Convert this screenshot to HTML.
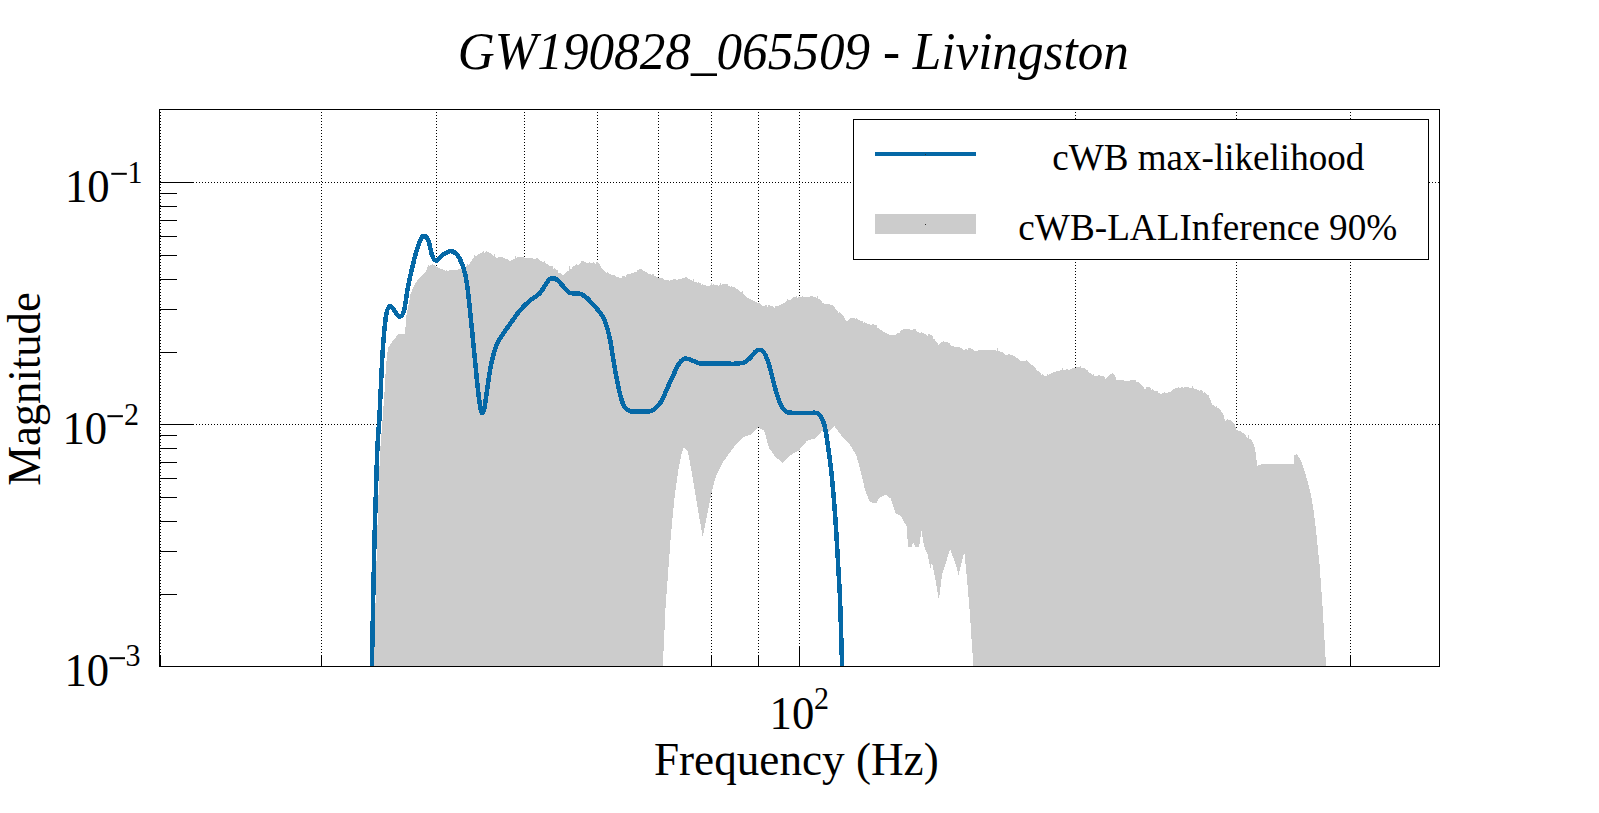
<!DOCTYPE html>
<html><head><meta charset="utf-8"><title>GW190828_065509 - Livingston</title>
<style>
html,body{margin:0;padding:0;background:#fff;}
body{width:1599px;height:813px;overflow:hidden;}
svg{display:block;}
text{font-family:"Liberation Serif",serif;fill:#000;}
.g{stroke:#000;stroke-width:1;stroke-dasharray:1 2;shape-rendering:crispEdges;}
.t{stroke:#000;stroke-width:1;shape-rendering:crispEdges;}
</style></head><body>
<svg width="1599" height="813" viewBox="0 0 1599 813">
<rect x="0" y="0" width="1599" height="813" fill="#fff"/>
<path d="M374.0,666.0 L377.0,540.0 L380.0,452.0 L382.5,420.0 L384.5,392.0 L386.0,365.0 L388.0,348.0 L392.9,340.5 L399.0,333.6 L405.2,333.6 L405.9,318.4 L411.0,291.7 L412.0,291.7 L412.0,289.4 L413.0,289.4 L413.0,287.1 L414.0,287.1 L414.0,284.9 L415.0,284.9 L415.0,283.4 L416.0,283.4 L416.0,281.9 L417.0,281.9 L417.0,280.4 L418.0,280.4 L418.0,278.9 L419.0,278.9 L419.0,277.6 L420.0,277.6 L420.0,276.8 L421.0,276.8 L421.0,276.0 L422.0,276.0 L422.0,275.1 L423.0,275.1 L423.0,274.3 L424.0,274.3 L424.0,272.8 L425.0,272.8 L425.0,271.7 L426.0,271.7 L426.0,269.9 L427.0,269.9 L427.0,267.4 L428.0,267.4 L428.0,264.9 L429.0,264.9 L429.0,265.9 L430.0,265.9 L430.0,265.4 L431.0,265.4 L431.0,264.9 L432.0,264.9 L432.0,264.4 L433.0,264.4 L433.0,264.8 L434.0,264.8 L434.0,265.4 L435.0,265.4 L435.0,266.0 L436.0,266.0 L436.0,266.6 L437.0,266.6 L437.0,267.2 L438.0,267.2 L438.0,267.8 L439.0,267.8 L439.0,268.2 L440.0,268.2 L440.0,268.5 L441.0,268.5 L441.0,268.9 L442.0,268.9 L442.0,269.2 L443.0,269.2 L443.0,269.5 L444.0,269.5 L444.0,269.8 L445.0,269.8 L445.0,270.9 L446.0,270.9 L446.0,270.4 L447.0,270.4 L447.0,270.5 L448.0,270.5 L448.0,270.6 L449.0,270.6 L449.0,269.9 L450.0,269.9 L450.0,269.9 L451.0,269.9 L451.0,270.0 L452.0,270.0 L452.0,270.1 L453.0,270.1 L453.0,270.1 L454.0,270.1 L454.0,269.8 L455.0,269.8 L455.0,270.3 L456.0,270.3 L456.0,269.9 L457.0,269.9 L457.0,269.6 L458.0,269.6 L458.0,269.2 L459.0,269.2 L459.0,268.9 L460.0,268.9 L460.0,269.3 L461.0,269.3 L461.0,269.0 L462.0,269.0 L462.0,267.8 L463.0,267.8 L463.0,268.0 L464.0,268.0 L464.0,267.4 L465.0,267.4 L465.0,266.8 L466.0,266.8 L466.0,266.2 L467.0,266.2 L467.0,264.1 L468.0,264.1 L468.0,264.9 L469.0,264.9 L469.0,263.7 L470.0,263.7 L470.0,261.8 L471.0,261.8 L471.0,260.5 L472.0,260.5 L472.0,259.3 L473.0,259.3 L473.0,258.1 L474.0,258.1 L474.0,254.9 L475.0,254.9 L475.0,256.2 L476.0,256.2 L476.0,255.5 L477.0,255.5 L477.0,254.9 L478.0,254.9 L478.0,254.2 L479.0,254.2 L479.0,253.5 L480.0,253.5 L480.0,252.8 L481.0,252.8 L481.0,252.5 L482.0,252.5 L482.0,252.3 L483.0,252.3 L483.0,251.3 L484.0,251.3 L484.0,252.5 L485.0,252.5 L485.0,252.3 L486.0,252.3 L486.0,251.2 L487.0,251.2 L487.0,251.7 L488.0,251.7 L488.0,252.2 L489.0,252.2 L489.0,252.7 L490.0,252.7 L490.0,253.2 L491.0,253.2 L491.0,253.9 L492.0,253.9 L492.0,255.4 L493.0,255.4 L493.0,256.2 L494.0,256.2 L494.0,254.4 L495.0,254.4 L495.0,257.0 L496.0,257.0 L496.0,257.8 L497.0,257.8 L497.0,257.5 L498.0,257.5 L498.0,257.2 L499.0,257.2 L499.0,256.9 L500.0,256.9 L500.0,256.5 L501.0,256.5 L501.0,256.9 L502.0,256.9 L502.0,257.4 L503.0,257.4 L503.0,257.9 L504.0,257.9 L504.0,258.4 L505.0,258.4 L505.0,258.9 L506.0,258.9 L506.0,259.4 L507.0,259.4 L507.0,259.1 L508.0,259.1 L508.0,259.6 L509.0,259.6 L509.0,261.1 L510.0,261.1 L510.0,260.6 L511.0,260.6 L511.0,260.1 L512.0,260.1 L512.0,259.6 L513.0,259.6 L513.0,259.1 L514.0,259.1 L514.0,258.6 L515.0,258.6 L515.0,255.6 L516.0,255.6 L516.0,257.5 L517.0,257.5 L517.0,257.4 L518.0,257.4 L518.0,257.4 L519.0,257.4 L519.0,257.3 L520.0,257.3 L520.0,257.2 L521.0,257.2 L521.0,257.1 L522.0,257.1 L522.0,257.1 L523.0,257.1 L523.0,257.0 L524.0,257.0 L524.0,257.7 L525.0,257.7 L525.0,257.7 L526.0,257.7 L526.0,257.8 L527.0,257.8 L527.0,257.9 L528.0,257.9 L528.0,258.0 L529.0,258.0 L529.0,258.1 L530.0,258.1 L530.0,258.2 L531.0,258.2 L531.0,258.3 L532.0,258.3 L532.0,258.4 L533.0,258.4 L533.0,258.5 L534.0,258.5 L534.0,258.6 L535.0,258.6 L535.0,258.7 L536.0,258.7 L536.0,258.0 L537.0,258.0 L537.0,258.3 L538.0,258.3 L538.0,259.0 L539.0,259.0 L539.0,260.4 L540.0,260.4 L540.0,261.0 L541.0,261.0 L541.0,260.9 L542.0,260.9 L542.0,261.6 L543.0,261.6 L543.0,262.3 L544.0,262.3 L544.0,261.4 L545.0,261.4 L545.0,263.4 L546.0,263.4 L546.0,263.9 L547.0,263.9 L547.0,264.4 L548.0,264.4 L548.0,264.9 L549.0,264.9 L549.0,266.2 L550.0,266.2 L550.0,265.9 L551.0,265.9 L551.0,266.4 L552.0,266.4 L552.0,266.4 L553.0,266.4 L553.0,268.7 L554.0,268.7 L554.0,268.0 L555.0,268.0 L555.0,268.8 L556.0,268.8 L556.0,269.6 L557.0,269.6 L557.0,270.4 L558.0,270.4 L558.0,272.6 L559.0,272.6 L559.0,273.1 L560.0,273.1 L560.0,272.8 L561.0,272.8 L561.0,274.1 L562.0,274.1 L562.0,274.6 L563.0,274.6 L563.0,274.5 L564.0,274.5 L564.0,273.7 L565.0,273.7 L565.0,272.9 L566.0,272.9 L566.0,272.1 L567.0,272.1 L567.0,271.3 L568.0,271.3 L568.0,270.5 L569.0,270.5 L569.0,266.4 L570.0,266.4 L570.0,269.3 L571.0,269.3 L571.0,268.8 L572.0,268.8 L572.0,266.8 L573.0,266.8 L573.0,266.3 L574.0,266.3 L574.0,265.7 L575.0,265.7 L575.0,265.0 L576.0,265.0 L576.0,264.4 L577.0,264.4 L577.0,265.2 L578.0,265.2 L578.0,264.5 L579.0,264.5 L579.0,263.9 L580.0,263.9 L580.0,263.2 L581.0,263.2 L581.0,261.1 L582.0,261.1 L582.0,261.2 L583.0,261.2 L583.0,260.6 L584.0,260.6 L584.0,262.3 L585.0,262.3 L585.0,261.7 L586.0,261.7 L586.0,262.6 L587.0,262.6 L587.0,262.8 L588.0,262.8 L588.0,262.9 L589.0,262.9 L589.0,262.2 L590.0,262.2 L590.0,263.0 L591.0,263.0 L591.0,263.0 L592.0,263.0 L592.0,263.0 L593.0,263.0 L593.0,262.2 L594.0,262.2 L594.0,263.0 L595.0,263.0 L595.0,263.8 L596.0,263.8 L596.0,261.5 L597.0,261.5 L597.0,262.2 L598.0,262.2 L598.0,263.2 L599.0,263.2 L599.0,264.1 L600.0,264.1 L600.0,265.8 L601.0,265.8 L601.0,267.6 L602.0,267.6 L602.0,268.6 L603.0,268.6 L603.0,269.6 L604.0,269.6 L604.0,270.6 L605.0,270.6 L605.0,271.6 L606.0,271.6 L606.0,272.6 L607.0,272.6 L607.0,272.1 L608.0,272.1 L608.0,273.4 L609.0,273.4 L609.0,273.8 L610.0,273.8 L610.0,274.2 L611.0,274.2 L611.0,274.6 L612.0,274.6 L612.0,275.0 L613.0,275.0 L613.0,275.4 L614.0,275.4 L614.0,275.1 L615.0,275.1 L615.0,275.5 L616.0,275.5 L616.0,276.6 L617.0,276.6 L617.0,277.0 L618.0,277.0 L618.0,277.4 L619.0,277.4 L619.0,277.8 L620.0,277.8 L620.0,278.0 L621.0,278.0 L621.0,277.5 L622.0,277.5 L622.0,276.4 L623.0,276.4 L623.0,275.9 L624.0,275.9 L624.0,275.5 L625.0,275.5 L625.0,276.6 L626.0,276.6 L626.0,275.4 L627.0,275.4 L627.0,274.2 L628.0,274.2 L628.0,273.8 L629.0,273.8 L629.0,274.1 L630.0,274.1 L630.0,273.7 L631.0,273.7 L631.0,273.3 L632.0,273.3 L632.0,272.9 L633.0,272.9 L633.0,272.5 L634.0,272.5 L634.0,272.1 L635.0,272.1 L635.0,271.7 L636.0,271.7 L636.0,272.1 L637.0,272.1 L637.0,270.2 L638.0,270.2 L638.0,269.8 L639.0,269.8 L639.0,269.4 L640.0,269.4 L640.0,269.0 L641.0,269.0 L641.0,268.9 L642.0,268.9 L642.0,270.1 L643.0,270.1 L643.0,270.6 L644.0,270.6 L644.0,271.0 L645.0,271.0 L645.0,271.5 L646.0,271.5 L646.0,271.9 L647.0,271.9 L647.0,273.1 L648.0,273.1 L648.0,273.5 L649.0,273.5 L649.0,274.0 L650.0,274.0 L650.0,274.4 L651.0,274.4 L651.0,274.9 L652.0,274.9 L652.0,273.8 L653.0,273.8 L653.0,273.6 L654.0,273.6 L654.0,275.6 L655.0,275.6 L655.0,276.1 L656.0,276.1 L656.0,276.6 L657.0,276.6 L657.0,277.1 L658.0,277.1 L658.0,277.6 L659.0,277.6 L659.0,278.1 L660.0,278.1 L660.0,277.7 L661.0,277.7 L661.0,278.0 L662.0,278.0 L662.0,278.3 L663.0,278.3 L663.0,279.4 L664.0,279.4 L664.0,279.7 L665.0,279.7 L665.0,280.0 L666.0,280.0 L666.0,280.4 L667.0,280.4 L667.0,279.9 L668.0,279.9 L668.0,279.5 L669.0,279.5 L669.0,280.5 L670.0,280.5 L670.0,280.2 L671.0,280.2 L671.0,279.9 L672.0,279.9 L672.0,279.5 L673.0,279.5 L673.0,279.2 L674.0,279.2 L674.0,278.9 L675.0,278.9 L675.0,278.5 L676.0,278.5 L676.0,279.7 L677.0,279.7 L677.0,279.6 L678.0,279.6 L678.0,278.8 L679.0,278.8 L679.0,278.7 L680.0,278.7 L680.0,278.6 L681.0,278.6 L681.0,278.5 L682.0,278.5 L682.0,278.4 L683.0,278.4 L683.0,277.6 L684.0,277.6 L684.0,277.5 L685.0,277.5 L685.0,277.4 L686.0,277.4 L686.0,277.4 L687.0,277.4 L687.0,277.7 L688.0,277.7 L688.0,278.9 L689.0,278.9 L689.0,279.3 L690.0,279.3 L690.0,279.8 L691.0,279.8 L691.0,280.2 L692.0,280.2 L692.0,280.6 L693.0,280.6 L693.0,279.1 L694.0,279.1 L694.0,282.2 L695.0,282.2 L695.0,281.9 L696.0,281.9 L696.0,282.3 L697.0,282.3 L697.0,282.7 L698.0,282.7 L698.0,282.2 L699.0,282.2 L699.0,282.6 L700.0,282.6 L700.0,282.9 L701.0,282.9 L701.0,284.7 L702.0,284.7 L702.0,284.3 L703.0,284.3 L703.0,284.6 L704.0,284.6 L704.0,284.9 L705.0,284.9 L705.0,285.3 L706.0,285.3 L706.0,285.5 L707.0,285.5 L707.0,286.2 L708.0,286.2 L708.0,286.1 L709.0,286.1 L709.0,286.0 L710.0,286.0 L710.0,285.2 L711.0,285.2 L711.0,282.5 L712.0,282.5 L712.0,285.1 L713.0,285.1 L713.0,284.2 L714.0,284.2 L714.0,284.9 L715.0,284.9 L715.0,284.8 L716.0,284.8 L716.0,284.8 L717.0,284.8 L717.0,284.8 L718.0,284.8 L718.0,285.6 L719.0,285.6 L719.0,284.8 L720.0,284.8 L720.0,282.8 L721.0,282.8 L721.0,284.8 L722.0,284.8 L722.0,284.1 L723.0,284.1 L723.0,284.1 L724.0,284.1 L724.0,284.1 L725.0,284.1 L725.0,284.1 L726.0,284.1 L726.0,284.1 L727.0,284.1 L727.0,284.1 L728.0,284.1 L728.0,285.6 L729.0,285.6 L729.0,286.0 L730.0,286.0 L730.0,286.5 L731.0,286.5 L731.0,286.2 L732.0,286.2 L732.0,286.6 L733.0,286.6 L733.0,287.0 L734.0,287.0 L734.0,286.7 L735.0,286.7 L735.0,287.9 L736.0,287.9 L736.0,288.6 L737.0,288.6 L737.0,289.3 L738.0,289.3 L738.0,290.1 L739.0,290.1 L739.0,290.8 L740.0,290.8 L740.0,291.5 L741.0,291.5 L741.0,292.3 L742.0,292.3 L742.0,291.0 L743.0,291.0 L743.0,293.8 L744.0,293.8 L744.0,295.2 L745.0,295.2 L745.0,296.0 L746.0,296.0 L746.0,296.7 L747.0,296.7 L747.0,297.5 L748.0,297.5 L748.0,298.2 L749.0,298.2 L749.0,299.0 L750.0,299.0 L750.0,299.0 L751.0,299.0 L751.0,299.8 L752.0,299.8 L752.0,299.8 L753.0,299.8 L753.0,300.5 L754.0,300.5 L754.0,301.3 L755.0,301.3 L755.0,302.0 L756.0,302.0 L756.0,302.3 L757.0,302.3 L757.0,302.7 L758.0,302.7 L758.0,303.0 L759.0,303.0 L759.0,303.3 L760.0,303.3 L760.0,304.4 L761.0,304.4 L761.0,304.8 L762.0,304.8 L762.0,305.8 L763.0,305.8 L763.0,306.0 L764.0,306.0 L764.0,306.2 L765.0,306.2 L765.0,304.8 L766.0,304.8 L766.0,305.0 L767.0,305.0 L767.0,306.6 L768.0,306.6 L768.0,305.2 L769.0,305.2 L769.0,305.4 L770.0,305.4 L770.0,305.5 L771.0,305.5 L771.0,305.7 L772.0,305.7 L772.0,305.8 L773.0,305.8 L773.0,306.7 L774.0,306.7 L774.0,307.6 L775.0,307.6 L775.0,306.0 L776.0,306.0 L776.0,306.4 L777.0,306.4 L777.0,306.1 L778.0,306.1 L778.0,305.8 L779.0,305.8 L779.0,305.4 L780.0,305.4 L780.0,305.1 L781.0,305.1 L781.0,304.0 L782.0,304.0 L782.0,304.4 L783.0,304.4 L783.0,303.4 L784.0,303.4 L784.0,303.1 L785.0,303.1 L785.0,302.1 L786.0,302.1 L786.0,301.1 L787.0,301.1 L787.0,298.7 L788.0,298.7 L788.0,300.0 L789.0,300.0 L789.0,299.7 L790.0,299.7 L790.0,299.5 L791.0,299.5 L791.0,299.2 L792.0,299.2 L792.0,298.2 L793.0,298.2 L793.0,297.2 L794.0,297.2 L794.0,296.9 L795.0,296.9 L795.0,296.7 L796.0,296.7 L796.0,296.4 L797.0,296.4 L797.0,297.7 L798.0,297.7 L798.0,297.0 L799.0,297.0 L799.0,296.9 L800.0,296.9 L800.0,296.9 L801.0,296.9 L801.0,296.9 L802.0,296.9 L802.0,296.1 L803.0,296.1 L803.0,296.8 L804.0,296.8 L804.0,296.8 L805.0,296.8 L805.0,296.7 L806.0,296.7 L806.0,296.7 L807.0,296.7 L807.0,296.7 L808.0,296.7 L808.0,296.6 L809.0,296.6 L809.0,296.6 L810.0,296.6 L810.0,296.0 L811.0,296.0 L811.0,296.2 L812.0,296.2 L812.0,296.3 L813.0,296.3 L813.0,296.5 L814.0,296.5 L814.0,296.7 L815.0,296.7 L815.0,296.8 L816.0,296.8 L816.0,297.7 L817.0,297.7 L817.0,296.3 L818.0,296.3 L818.0,299.1 L819.0,299.1 L819.0,299.2 L820.0,299.2 L820.0,300.0 L821.0,300.0 L821.0,300.8 L822.0,300.8 L822.0,303.2 L823.0,303.2 L823.0,302.5 L824.0,302.5 L824.0,303.9 L825.0,303.9 L825.0,304.0 L826.0,304.0 L826.0,304.0 L827.0,304.0 L827.0,304.1 L828.0,304.1 L828.0,304.1 L829.0,304.1 L829.0,304.2 L830.0,304.2 L830.0,305.0 L831.0,305.0 L831.0,305.1 L832.0,305.1 L832.0,305.1 L833.0,305.1 L833.0,305.9 L834.0,305.9 L834.0,307.3 L835.0,307.3 L835.0,308.6 L836.0,308.6 L836.0,309.9 L837.0,309.9 L837.0,311.3 L838.0,311.3 L838.0,312.6 L839.0,312.6 L839.0,312.2 L840.0,312.2 L840.0,313.2 L841.0,313.2 L841.0,314.2 L842.0,314.2 L842.0,315.2 L843.0,315.2 L843.0,316.2 L844.0,316.2 L844.0,318.0 L845.0,318.0 L845.0,319.8 L846.0,319.8 L846.0,320.6 L847.0,320.6 L847.0,320.5 L848.0,320.5 L848.0,320.3 L849.0,320.3 L849.0,318.6 L850.0,318.6 L850.0,318.4 L851.0,318.4 L851.0,318.3 L852.0,318.3 L852.0,318.1 L853.0,318.1 L853.0,317.9 L854.0,317.9 L854.0,317.7 L855.0,317.7 L855.0,319.1 L856.0,319.1 L856.0,318.4 L857.0,318.4 L857.0,318.9 L858.0,318.9 L858.0,320.3 L859.0,320.3 L859.0,320.1 L860.0,320.1 L860.0,320.6 L861.0,320.6 L861.0,321.2 L862.0,321.2 L862.0,321.0 L863.0,321.0 L863.0,323.1 L864.0,323.1 L864.0,321.9 L865.0,321.9 L865.0,322.9 L866.0,322.9 L866.0,323.2 L867.0,323.2 L867.0,324.2 L868.0,324.2 L868.0,323.7 L869.0,323.7 L869.0,323.9 L870.0,323.9 L870.0,324.9 L871.0,324.9 L871.0,325.2 L872.0,325.2 L872.0,324.0 L873.0,324.0 L873.0,324.2 L874.0,324.2 L874.0,324.5 L875.0,324.5 L875.0,324.7 L876.0,324.7 L876.0,325.3 L877.0,325.3 L877.0,327.6 L878.0,327.6 L878.0,328.4 L879.0,328.4 L879.0,329.2 L880.0,329.2 L880.0,330.1 L881.0,330.1 L881.0,330.0 L882.0,330.0 L882.0,330.8 L883.0,330.8 L883.0,331.5 L884.0,331.5 L884.0,332.3 L885.0,332.3 L885.0,333.0 L886.0,333.0 L886.0,333.0 L887.0,333.0 L887.0,333.8 L888.0,333.8 L888.0,334.0 L889.0,334.0 L889.0,335.3 L890.0,335.3 L890.0,335.2 L891.0,335.2 L891.0,335.1 L892.0,335.1 L892.0,334.9 L893.0,334.9 L893.0,334.8 L894.0,334.8 L894.0,334.7 L895.0,334.7 L895.0,334.5 L896.0,334.5 L896.0,334.0 L897.0,334.0 L897.0,332.8 L898.0,332.8 L898.0,333.1 L899.0,333.1 L899.0,332.6 L900.0,332.6 L900.0,330.7 L901.0,330.7 L901.0,330.2 L902.0,330.2 L902.0,329.7 L903.0,329.7 L903.0,329.3 L904.0,329.3 L904.0,328.8 L905.0,328.8 L905.0,328.6 L906.0,328.6 L906.0,329.4 L907.0,329.4 L907.0,329.4 L908.0,329.4 L908.0,328.7 L909.0,328.7 L909.0,328.8 L910.0,328.8 L910.0,330.3 L911.0,330.3 L911.0,330.4 L912.0,330.4 L912.0,330.4 L913.0,330.4 L913.0,329.0 L914.0,329.0 L914.0,329.0 L915.0,329.0 L915.0,329.3 L916.0,329.3 L916.0,331.3 L917.0,331.3 L917.0,331.7 L918.0,331.7 L918.0,332.2 L919.0,332.2 L919.0,332.6 L920.0,332.6 L920.0,333.1 L921.0,333.1 L921.0,332.1 L922.0,332.1 L922.0,332.5 L923.0,332.5 L923.0,333.0 L924.0,333.0 L924.0,334.2 L925.0,334.2 L925.0,334.4 L926.0,334.4 L926.0,335.3 L927.0,335.3 L927.0,335.5 L928.0,335.5 L928.0,334.2 L929.0,334.2 L929.0,334.3 L930.0,334.3 L930.0,335.2 L931.0,335.2 L931.0,335.4 L932.0,335.4 L932.0,336.1 L933.0,336.1 L933.0,338.5 L934.0,338.5 L934.0,339.3 L935.0,339.3 L935.0,340.9 L936.0,340.9 L936.0,341.7 L937.0,341.7 L937.0,343.3 L938.0,343.3 L938.0,345.1 L939.0,345.1 L939.0,344.2 L940.0,344.2 L940.0,343.3 L941.0,343.3 L941.0,342.4 L942.0,342.4 L942.0,341.5 L943.0,341.5 L943.0,341.1 L944.0,341.1 L944.0,341.6 L945.0,341.6 L945.0,342.1 L946.0,342.1 L946.0,341.8 L947.0,341.8 L947.0,342.4 L948.0,342.4 L948.0,342.9 L949.0,342.9 L949.0,343.4 L950.0,343.4 L950.0,345.4 L951.0,345.4 L951.0,345.9 L952.0,345.9 L952.0,346.2 L953.0,346.2 L953.0,346.3 L954.0,346.3 L954.0,346.5 L955.0,346.5 L955.0,346.7 L956.0,346.7 L956.0,346.9 L957.0,346.9 L957.0,347.1 L958.0,347.1 L958.0,347.2 L959.0,347.2 L959.0,346.8 L960.0,346.8 L960.0,347.6 L961.0,347.6 L961.0,348.3 L962.0,348.3 L962.0,349.0 L963.0,349.0 L963.0,349.8 L964.0,349.8 L964.0,350.1 L965.0,350.1 L965.0,349.0 L966.0,349.0 L966.0,348.7 L967.0,348.7 L967.0,349.9 L968.0,349.9 L968.0,348.1 L969.0,348.1 L969.0,347.8 L970.0,347.8 L970.0,347.5 L971.0,347.5 L971.0,348.7 L972.0,348.7 L972.0,349.3 L973.0,349.3 L973.0,350.1 L974.0,350.1 L974.0,350.7 L975.0,350.7 L975.0,351.4 L976.0,351.4 L976.0,351.3 L977.0,351.3 L977.0,350.6 L978.0,350.6 L978.0,349.8 L979.0,349.8 L979.0,349.7 L980.0,349.7 L980.0,349.7 L981.0,349.7 L981.0,349.6 L982.0,349.6 L982.0,349.6 L983.0,349.6 L983.0,350.3 L984.0,350.3 L984.0,350.3 L985.0,350.3 L985.0,350.2 L986.0,350.2 L986.0,350.2 L987.0,350.2 L987.0,350.2 L988.0,350.2 L988.0,350.2 L989.0,350.2 L989.0,350.2 L990.0,350.2 L990.0,350.2 L991.0,350.2 L991.0,350.2 L992.0,350.2 L992.0,350.2 L993.0,350.2 L993.0,350.2 L994.0,350.2 L994.0,350.2 L995.0,350.2 L995.0,350.2 L996.0,350.2 L996.0,350.9 L997.0,350.9 L997.0,348.3 L998.0,348.3 L998.0,350.7 L999.0,350.7 L999.0,351.1 L1000.0,351.1 L1000.0,351.6 L1001.0,351.6 L1001.0,352.0 L1002.0,352.0 L1002.0,351.7 L1003.0,351.7 L1003.0,352.9 L1004.0,352.9 L1004.0,354.0 L1005.0,354.0 L1005.0,354.5 L1006.0,354.5 L1006.0,354.7 L1007.0,354.7 L1007.0,354.9 L1008.0,354.9 L1008.0,354.3 L1009.0,354.3 L1009.0,354.4 L1010.0,354.4 L1010.0,354.6 L1011.0,354.6 L1011.0,354.7 L1012.0,354.7 L1012.0,354.9 L1013.0,354.9 L1013.0,355.8 L1014.0,355.8 L1014.0,355.9 L1015.0,355.9 L1015.0,356.7 L1016.0,356.7 L1016.0,357.5 L1017.0,357.5 L1017.0,358.3 L1018.0,358.3 L1018.0,359.1 L1019.0,359.1 L1019.0,359.9 L1020.0,359.9 L1020.0,360.7 L1021.0,360.7 L1021.0,361.0 L1022.0,361.0 L1022.0,361.1 L1023.0,361.1 L1023.0,360.6 L1024.0,360.6 L1024.0,360.7 L1025.0,360.7 L1025.0,360.9 L1026.0,360.9 L1026.0,360.3 L1027.0,360.3 L1027.0,360.5 L1028.0,360.5 L1028.0,361.8 L1029.0,361.8 L1029.0,362.7 L1030.0,362.7 L1030.0,363.6 L1031.0,363.6 L1031.0,364.5 L1032.0,364.5 L1032.0,364.7 L1033.0,364.7 L1033.0,365.6 L1034.0,365.6 L1034.0,366.6 L1035.0,366.6 L1035.0,367.7 L1036.0,367.7 L1036.0,370.2 L1037.0,370.2 L1037.0,371.3 L1038.0,371.3 L1038.0,370.9 L1039.0,370.9 L1039.0,372.0 L1040.0,372.0 L1040.0,373.0 L1041.0,373.0 L1041.0,375.0 L1042.0,375.0 L1042.0,374.0 L1043.0,374.0 L1043.0,375.2 L1044.0,375.2 L1044.0,375.7 L1045.0,375.7 L1045.0,376.0 L1046.0,376.0 L1046.0,375.5 L1047.0,375.5 L1047.0,374.2 L1048.0,374.2 L1048.0,374.5 L1049.0,374.5 L1049.0,374.0 L1050.0,374.0 L1050.0,373.5 L1051.0,373.5 L1051.0,373.0 L1052.0,373.0 L1052.0,372.5 L1053.0,372.5 L1053.0,372.2 L1054.0,372.2 L1054.0,371.9 L1055.0,371.9 L1055.0,371.6 L1056.0,371.6 L1056.0,371.3 L1057.0,371.3 L1057.0,371.1 L1058.0,371.1 L1058.0,370.8 L1059.0,370.8 L1059.0,370.5 L1060.0,370.5 L1060.0,370.3 L1061.0,370.3 L1061.0,370.2 L1062.0,370.2 L1062.0,368.1 L1063.0,368.1 L1063.0,369.9 L1064.0,369.9 L1064.0,369.8 L1065.0,369.8 L1065.0,369.7 L1066.0,369.7 L1066.0,368.8 L1067.0,368.8 L1067.0,368.6 L1068.0,368.6 L1068.0,370.0 L1069.0,370.0 L1069.0,369.9 L1070.0,369.9 L1070.0,369.0 L1071.0,369.0 L1071.0,368.8 L1072.0,368.8 L1072.0,367.9 L1073.0,367.9 L1073.0,367.8 L1074.0,367.8 L1074.0,367.7 L1075.0,367.7 L1075.0,367.5 L1076.0,367.5 L1076.0,367.4 L1077.0,367.4 L1077.0,367.4 L1078.0,367.4 L1078.0,367.4 L1079.0,367.4 L1079.0,367.4 L1080.0,367.4 L1080.0,365.6 L1081.0,365.6 L1081.0,368.2 L1082.0,368.2 L1082.0,368.2 L1083.0,368.2 L1083.0,368.2 L1084.0,368.2 L1084.0,368.2 L1085.0,368.2 L1085.0,368.9 L1086.0,368.9 L1086.0,369.6 L1087.0,369.6 L1087.0,369.6 L1088.0,369.6 L1088.0,371.9 L1089.0,371.9 L1089.0,372.7 L1090.0,372.7 L1090.0,373.4 L1091.0,373.4 L1091.0,374.2 L1092.0,374.2 L1092.0,374.9 L1093.0,374.9 L1093.0,374.2 L1094.0,374.2 L1094.0,376.4 L1095.0,376.4 L1095.0,375.6 L1096.0,375.6 L1096.0,375.6 L1097.0,375.6 L1097.0,375.6 L1098.0,375.6 L1098.0,374.9 L1099.0,374.9 L1099.0,374.9 L1100.0,374.9 L1100.0,375.6 L1101.0,375.6 L1101.0,375.6 L1102.0,375.6 L1102.0,375.6 L1103.0,375.6 L1103.0,376.2 L1104.0,376.2 L1104.0,377.3 L1105.0,377.3 L1105.0,378.5 L1106.0,378.5 L1106.0,377.7 L1107.0,377.7 L1107.0,376.9 L1108.0,376.9 L1108.0,376.0 L1109.0,376.0 L1109.0,375.2 L1110.0,375.2 L1110.0,374.4 L1111.0,374.4 L1111.0,373.6 L1112.0,373.6 L1112.0,372.7 L1113.0,372.7 L1113.0,373.5 L1114.0,373.5 L1114.0,375.3 L1115.0,375.3 L1115.0,377.0 L1116.0,377.0 L1116.0,379.6 L1117.0,379.6 L1117.0,379.9 L1118.0,379.9 L1118.0,380.1 L1119.0,380.1 L1119.0,380.3 L1120.0,380.3 L1120.0,379.8 L1121.0,379.8 L1121.0,380.0 L1122.0,380.0 L1122.0,380.2 L1123.0,380.2 L1123.0,380.4 L1124.0,380.4 L1124.0,380.6 L1125.0,380.6 L1125.0,380.8 L1126.0,380.8 L1126.0,381.0 L1127.0,381.0 L1127.0,380.6 L1128.0,380.6 L1128.0,380.9 L1129.0,380.9 L1129.0,380.5 L1130.0,380.5 L1130.0,380.1 L1131.0,380.1 L1131.0,379.8 L1132.0,379.8 L1132.0,380.2 L1133.0,380.2 L1133.0,379.7 L1134.0,379.7 L1134.0,380.1 L1135.0,380.1 L1135.0,380.4 L1136.0,380.4 L1136.0,381.5 L1137.0,381.5 L1137.0,381.8 L1138.0,381.8 L1138.0,382.2 L1139.0,382.2 L1139.0,383.3 L1140.0,383.3 L1140.0,383.9 L1141.0,383.9 L1141.0,385.2 L1142.0,385.2 L1142.0,385.8 L1143.0,385.8 L1143.0,387.1 L1144.0,387.1 L1144.0,389.2 L1145.0,389.2 L1145.0,388.8 L1146.0,388.8 L1146.0,386.8 L1147.0,386.8 L1147.0,386.7 L1148.0,386.7 L1148.0,386.7 L1149.0,386.7 L1149.0,387.4 L1150.0,387.4 L1150.0,388.1 L1151.0,388.1 L1151.0,389.5 L1152.0,389.5 L1152.0,389.4 L1153.0,389.4 L1153.0,390.1 L1154.0,390.1 L1154.0,390.5 L1155.0,390.5 L1155.0,390.9 L1156.0,390.9 L1156.0,391.4 L1157.0,391.4 L1157.0,390.5 L1158.0,390.5 L1158.0,392.9 L1159.0,392.9 L1159.0,393.4 L1160.0,393.4 L1160.0,393.7 L1161.0,393.7 L1161.0,393.5 L1162.0,393.5 L1162.0,393.3 L1163.0,393.3 L1163.0,393.2 L1164.0,393.2 L1164.0,392.2 L1165.0,392.2 L1165.0,392.8 L1166.0,392.8 L1166.0,392.6 L1167.0,392.6 L1167.0,392.5 L1168.0,392.5 L1168.0,392.3 L1169.0,392.3 L1169.0,392.1 L1170.0,392.1 L1170.0,391.8 L1171.0,391.8 L1171.0,390.5 L1172.0,390.5 L1172.0,389.9 L1173.0,389.9 L1173.0,389.4 L1174.0,389.4 L1174.0,388.8 L1175.0,388.8 L1175.0,388.2 L1176.0,388.2 L1176.0,387.6 L1177.0,387.6 L1177.0,387.8 L1178.0,387.8 L1178.0,386.9 L1179.0,386.9 L1179.0,387.6 L1180.0,387.6 L1180.0,387.5 L1181.0,387.5 L1181.0,387.4 L1182.0,387.4 L1182.0,387.3 L1183.0,387.3 L1183.0,387.9 L1184.0,387.9 L1184.0,387.0 L1185.0,387.0 L1185.0,387.1 L1186.0,387.1 L1186.0,387.2 L1187.0,387.2 L1187.0,387.3 L1188.0,387.3 L1188.0,387.4 L1189.0,387.4 L1189.0,387.5 L1190.0,387.5 L1190.0,387.7 L1191.0,387.7 L1191.0,387.8 L1192.0,387.8 L1192.0,385.9 L1193.0,385.9 L1193.0,388.0 L1194.0,388.0 L1194.0,388.9 L1195.0,388.9 L1195.0,389.0 L1196.0,389.0 L1196.0,389.3 L1197.0,389.3 L1197.0,389.8 L1198.0,389.8 L1198.0,390.3 L1199.0,390.3 L1199.0,390.8 L1200.0,390.8 L1200.0,389.8 L1201.0,389.8 L1201.0,390.3 L1202.0,390.3 L1202.0,390.8 L1203.0,390.8 L1203.0,392.8 L1204.0,392.8 L1204.0,392.1 L1205.0,392.1 L1205.0,392.8 L1206.0,392.8 L1206.0,394.3 L1207.0,394.3 L1207.0,395.1 L1208.0,395.1 L1208.0,395.4 L1209.0,395.4 L1209.0,397.7 L1210.0,397.7 L1210.0,400.1 L1211.0,400.1 L1211.0,403.1 L1212.0,403.1 L1212.0,404.6 L1213.0,404.6 L1213.0,405.2 L1214.0,405.2 L1214.0,405.8 L1215.0,405.8 L1215.0,407.2 L1216.0,407.2 L1216.0,406.3 L1217.0,406.3 L1217.0,407.6 L1218.0,407.6 L1218.0,407.7 L1219.0,407.7 L1219.0,409.0 L1220.0,409.0 L1220.0,410.2 L1221.0,410.2 L1221.0,411.5 L1222.0,411.5 L1222.0,412.7 L1223.0,412.7 L1223.0,415.3 L1224.0,415.3 L1224.0,418.5 L1225.0,418.5 L1225.0,420.9 L1226.0,420.9 L1226.0,420.2 L1227.0,420.2 L1227.0,419.4 L1228.0,419.4 L1228.0,420.2 L1229.0,420.2 L1229.0,420.2 L1230.0,420.2 L1230.0,420.3 L1231.0,420.3 L1231.0,421.2 L1232.0,421.2 L1232.0,422.2 L1233.0,422.2 L1233.0,423.1 L1234.0,423.1 L1234.0,424.0 L1235.0,424.0 L1235.0,427.0 L1236.0,427.0 L1236.0,429.6 L1237.0,429.6 L1237.0,429.8 L1238.0,429.8 L1238.0,430.8 L1239.0,430.8 L1239.0,431.2 L1240.0,431.2 L1240.0,431.3 L1241.0,431.3 L1241.0,432.1 L1242.0,432.1 L1242.0,432.9 L1243.0,432.9 L1243.0,432.9 L1244.0,432.9 L1244.0,433.7 L1245.0,433.7 L1245.0,435.2 L1246.0,435.2 L1246.0,436.8 L1247.0,436.8 L1247.0,437.6 L1248.0,437.6 L1248.0,435.1 L1249.0,435.1 L1249.0,438.5 L1250.0,438.5 L1250.0,439.3 L1251.0,439.3 L1251.0,440.3 L1252.0,440.3 L1252.0,442.3 L1253.0,442.3 L1253.0,444.3 L1254.0,444.3 L1254.0,447.1 L1255.0,447.1 L1256.2,458.4 L1257.5,465.7 L1263.1,464.0 L1293.9,464.0 L1293.9,455.9 L1296.3,453.9 L1300.0,458.4 L1303.7,468.2 L1307.4,480.5 L1311.1,495.2 L1313.5,510.0 L1316.0,529.7 L1318.4,554.3 L1319.2,560.0 L1322.8,610.0 L1326.0,666.0 Z M662.8,666.0 L665.6,606.7 L668.3,569.8 L670.7,537.9 L674.4,498.5 L678.1,471.5 L681.8,453.0 L683.8,446.9 L688.0,451.8 L691.6,471.5 L695.3,493.6 L699.0,515.7 L702.7,537.1 L706.4,518.2 L711.3,493.6 L716.2,475.2 L722.4,462.9 L728.5,454.3 L735.9,444.4 L743.3,437.0 L750.7,434.6 L758.0,427.2 L764.2,430.9 L769.1,448.1 L775.2,456.7 L782.6,462.9 L790.0,455.5 L798.6,450.6 L807.2,440.7 L815.8,438.3 L822.0,430.9 L826.9,433.4 L834.3,426.0 L841.6,435.8 L849.0,443.2 L856.4,455.5 L861.3,473.9 L865.0,489.9 L869.9,502.2 L876.1,503.4 L879.8,497.3 L885.9,494.8 L890.8,498.5 L895.7,513.3 L900.7,515.7 L906.8,526.8 L908.0,547.2 L911.7,547.2 L913.0,541.6 L915.4,547.2 L919.1,547.2 L921.4,530.5 L924.2,546.7 L927.9,555.3 L930.3,568.9 L932.0,562.7 L935.2,578.7 L938.3,596.0 L938.9,601.5 L939.6,594.0 L942.1,573.8 L946.3,561.5 L950.0,549.2 L954.9,561.5 L958.6,575.0 L962.3,560.2 L964.3,551.6 L967.2,581.1 L969.7,610.7 L972.1,647.5 L973.4,666.0 Z" fill="#cccccc" fill-rule="evenodd" shape-rendering="crispEdges"/>
<line x1="160.5" y1="112.0" x2="160.5" y2="666.5" class="g"/>
<line x1="321.5" y1="112.0" x2="321.5" y2="666.5" class="g"/>
<line x1="436.5" y1="112.0" x2="436.5" y2="666.5" class="g"/>
<line x1="524.5" y1="112.0" x2="524.5" y2="666.5" class="g"/>
<line x1="597.5" y1="112.0" x2="597.5" y2="666.5" class="g"/>
<line x1="658.5" y1="112.0" x2="658.5" y2="666.5" class="g"/>
<line x1="711.5" y1="112.0" x2="711.5" y2="666.5" class="g"/>
<line x1="758.5" y1="112.0" x2="758.5" y2="666.5" class="g"/>
<line x1="799.5" y1="112.0" x2="799.5" y2="666.5" class="g"/>
<line x1="1075.5" y1="112.0" x2="1075.5" y2="666.5" class="g"/>
<line x1="1236.5" y1="112.0" x2="1236.5" y2="666.5" class="g"/>
<line x1="1350.5" y1="112.0" x2="1350.5" y2="666.5" class="g"/>
<line x1="159.5" y1="182.5" x2="1439.5" y2="182.5" class="g"/>
<line x1="159.5" y1="424.5" x2="1439.5" y2="424.5" class="g"/>
<line x1="160.5" y1="666.5" x2="160.5" y2="655.5" class="t"/>
<line x1="321.5" y1="666.5" x2="321.5" y2="655.5" class="t"/>
<line x1="436.5" y1="666.5" x2="436.5" y2="655.5" class="t"/>
<line x1="524.5" y1="666.5" x2="524.5" y2="655.5" class="t"/>
<line x1="597.5" y1="666.5" x2="597.5" y2="655.5" class="t"/>
<line x1="658.5" y1="666.5" x2="658.5" y2="655.5" class="t"/>
<line x1="711.5" y1="666.5" x2="711.5" y2="655.5" class="t"/>
<line x1="758.5" y1="666.5" x2="758.5" y2="655.5" class="t"/>
<line x1="799.5" y1="666.5" x2="799.5" y2="645.5" class="t"/>
<line x1="1075.5" y1="666.5" x2="1075.5" y2="655.5" class="t"/>
<line x1="1236.5" y1="666.5" x2="1236.5" y2="655.5" class="t"/>
<line x1="1350.5" y1="666.5" x2="1350.5" y2="655.5" class="t"/>
<path d="M374.0,666.0 L377.0,540.0 L380.0,452.0 L382.5,420.0 L384.5,392.0 L386.0,365.0 L388.0,348.0 L392.9,340.5 L399.0,333.6 L405.2,333.6 L405.9,318.4 L411.0,291.7 L412.0,291.7 L412.0,289.4 L413.0,289.4 L413.0,287.1 L414.0,287.1 L414.0,284.9 L415.0,284.9 L415.0,283.4 L416.0,283.4 L416.0,281.9 L417.0,281.9 L417.0,280.4 L418.0,280.4 L418.0,278.9 L419.0,278.9 L419.0,277.6 L420.0,277.6 L420.0,276.8 L421.0,276.8 L421.0,276.0 L422.0,276.0 L422.0,275.1 L423.0,275.1 L423.0,274.3 L424.0,274.3 L424.0,272.8 L425.0,272.8 L425.0,271.7 L426.0,271.7 L426.0,269.9 L427.0,269.9 L427.0,267.4 L428.0,267.4 L428.0,264.9 L429.0,264.9 L429.0,265.9 L430.0,265.9 L430.0,265.4 L431.0,265.4 L431.0,264.9 L432.0,264.9 L432.0,264.4 L433.0,264.4 L433.0,264.8 L434.0,264.8 L434.0,265.4 L435.0,265.4 L435.0,266.0 L436.0,266.0 L436.0,266.6 L437.0,266.6 L437.0,267.2 L438.0,267.2 L438.0,267.8 L439.0,267.8 L439.0,268.2 L440.0,268.2 L440.0,268.5 L441.0,268.5 L441.0,268.9 L442.0,268.9 L442.0,269.2 L443.0,269.2 L443.0,269.5 L444.0,269.5 L444.0,269.8 L445.0,269.8 L445.0,270.9 L446.0,270.9 L446.0,270.4 L447.0,270.4 L447.0,270.5 L448.0,270.5 L448.0,270.6 L449.0,270.6 L449.0,269.9 L450.0,269.9 L450.0,269.9 L451.0,269.9 L451.0,270.0 L452.0,270.0 L452.0,270.1 L453.0,270.1 L453.0,270.1 L454.0,270.1 L454.0,269.8 L455.0,269.8 L455.0,270.3 L456.0,270.3 L456.0,269.9 L457.0,269.9 L457.0,269.6 L458.0,269.6 L458.0,269.2 L459.0,269.2 L459.0,268.9 L460.0,268.9 L460.0,269.3 L461.0,269.3 L461.0,269.0 L462.0,269.0 L462.0,267.8 L463.0,267.8 L463.0,268.0 L464.0,268.0 L464.0,267.4 L465.0,267.4 L465.0,266.8 L466.0,266.8 L466.0,266.2 L467.0,266.2 L467.0,264.1 L468.0,264.1 L468.0,264.9 L469.0,264.9 L469.0,263.7 L470.0,263.7 L470.0,261.8 L471.0,261.8 L471.0,260.5 L472.0,260.5 L472.0,259.3 L473.0,259.3 L473.0,258.1 L474.0,258.1 L474.0,254.9 L475.0,254.9 L475.0,256.2 L476.0,256.2 L476.0,255.5 L477.0,255.5 L477.0,254.9 L478.0,254.9 L478.0,254.2 L479.0,254.2 L479.0,253.5 L480.0,253.5 L480.0,252.8 L481.0,252.8 L481.0,252.5 L482.0,252.5 L482.0,252.3 L483.0,252.3 L483.0,251.3 L484.0,251.3 L484.0,252.5 L485.0,252.5 L485.0,252.3 L486.0,252.3 L486.0,251.2 L487.0,251.2 L487.0,251.7 L488.0,251.7 L488.0,252.2 L489.0,252.2 L489.0,252.7 L490.0,252.7 L490.0,253.2 L491.0,253.2 L491.0,253.9 L492.0,253.9 L492.0,255.4 L493.0,255.4 L493.0,256.2 L494.0,256.2 L494.0,254.4 L495.0,254.4 L495.0,257.0 L496.0,257.0 L496.0,257.8 L497.0,257.8 L497.0,257.5 L498.0,257.5 L498.0,257.2 L499.0,257.2 L499.0,256.9 L500.0,256.9 L500.0,256.5 L501.0,256.5 L501.0,256.9 L502.0,256.9 L502.0,257.4 L503.0,257.4 L503.0,257.9 L504.0,257.9 L504.0,258.4 L505.0,258.4 L505.0,258.9 L506.0,258.9 L506.0,259.4 L507.0,259.4 L507.0,259.1 L508.0,259.1 L508.0,259.6 L509.0,259.6 L509.0,261.1 L510.0,261.1 L510.0,260.6 L511.0,260.6 L511.0,260.1 L512.0,260.1 L512.0,259.6 L513.0,259.6 L513.0,259.1 L514.0,259.1 L514.0,258.6 L515.0,258.6 L515.0,255.6 L516.0,255.6 L516.0,257.5 L517.0,257.5 L517.0,257.4 L518.0,257.4 L518.0,257.4 L519.0,257.4 L519.0,257.3 L520.0,257.3 L520.0,257.2 L521.0,257.2 L521.0,257.1 L522.0,257.1 L522.0,257.1 L523.0,257.1 L523.0,257.0 L524.0,257.0 L524.0,257.7 L525.0,257.7 L525.0,257.7 L526.0,257.7 L526.0,257.8 L527.0,257.8 L527.0,257.9 L528.0,257.9 L528.0,258.0 L529.0,258.0 L529.0,258.1 L530.0,258.1 L530.0,258.2 L531.0,258.2 L531.0,258.3 L532.0,258.3 L532.0,258.4 L533.0,258.4 L533.0,258.5 L534.0,258.5 L534.0,258.6 L535.0,258.6 L535.0,258.7 L536.0,258.7 L536.0,258.0 L537.0,258.0 L537.0,258.3 L538.0,258.3 L538.0,259.0 L539.0,259.0 L539.0,260.4 L540.0,260.4 L540.0,261.0 L541.0,261.0 L541.0,260.9 L542.0,260.9 L542.0,261.6 L543.0,261.6 L543.0,262.3 L544.0,262.3 L544.0,261.4 L545.0,261.4 L545.0,263.4 L546.0,263.4 L546.0,263.9 L547.0,263.9 L547.0,264.4 L548.0,264.4 L548.0,264.9 L549.0,264.9 L549.0,266.2 L550.0,266.2 L550.0,265.9 L551.0,265.9 L551.0,266.4 L552.0,266.4 L552.0,266.4 L553.0,266.4 L553.0,268.7 L554.0,268.7 L554.0,268.0 L555.0,268.0 L555.0,268.8 L556.0,268.8 L556.0,269.6 L557.0,269.6 L557.0,270.4 L558.0,270.4 L558.0,272.6 L559.0,272.6 L559.0,273.1 L560.0,273.1 L560.0,272.8 L561.0,272.8 L561.0,274.1 L562.0,274.1 L562.0,274.6 L563.0,274.6 L563.0,274.5 L564.0,274.5 L564.0,273.7 L565.0,273.7 L565.0,272.9 L566.0,272.9 L566.0,272.1 L567.0,272.1 L567.0,271.3 L568.0,271.3 L568.0,270.5 L569.0,270.5 L569.0,266.4 L570.0,266.4 L570.0,269.3 L571.0,269.3 L571.0,268.8 L572.0,268.8 L572.0,266.8 L573.0,266.8 L573.0,266.3 L574.0,266.3 L574.0,265.7 L575.0,265.7 L575.0,265.0 L576.0,265.0 L576.0,264.4 L577.0,264.4 L577.0,265.2 L578.0,265.2 L578.0,264.5 L579.0,264.5 L579.0,263.9 L580.0,263.9 L580.0,263.2 L581.0,263.2 L581.0,261.1 L582.0,261.1 L582.0,261.2 L583.0,261.2 L583.0,260.6 L584.0,260.6 L584.0,262.3 L585.0,262.3 L585.0,261.7 L586.0,261.7 L586.0,262.6 L587.0,262.6 L587.0,262.8 L588.0,262.8 L588.0,262.9 L589.0,262.9 L589.0,262.2 L590.0,262.2 L590.0,263.0 L591.0,263.0 L591.0,263.0 L592.0,263.0 L592.0,263.0 L593.0,263.0 L593.0,262.2 L594.0,262.2 L594.0,263.0 L595.0,263.0 L595.0,263.8 L596.0,263.8 L596.0,261.5 L597.0,261.5 L597.0,262.2 L598.0,262.2 L598.0,263.2 L599.0,263.2 L599.0,264.1 L600.0,264.1 L600.0,265.8 L601.0,265.8 L601.0,267.6 L602.0,267.6 L602.0,268.6 L603.0,268.6 L603.0,269.6 L604.0,269.6 L604.0,270.6 L605.0,270.6 L605.0,271.6 L606.0,271.6 L606.0,272.6 L607.0,272.6 L607.0,272.1 L608.0,272.1 L608.0,273.4 L609.0,273.4 L609.0,273.8 L610.0,273.8 L610.0,274.2 L611.0,274.2 L611.0,274.6 L612.0,274.6 L612.0,275.0 L613.0,275.0 L613.0,275.4 L614.0,275.4 L614.0,275.1 L615.0,275.1 L615.0,275.5 L616.0,275.5 L616.0,276.6 L617.0,276.6 L617.0,277.0 L618.0,277.0 L618.0,277.4 L619.0,277.4 L619.0,277.8 L620.0,277.8 L620.0,278.0 L621.0,278.0 L621.0,277.5 L622.0,277.5 L622.0,276.4 L623.0,276.4 L623.0,275.9 L624.0,275.9 L624.0,275.5 L625.0,275.5 L625.0,276.6 L626.0,276.6 L626.0,275.4 L627.0,275.4 L627.0,274.2 L628.0,274.2 L628.0,273.8 L629.0,273.8 L629.0,274.1 L630.0,274.1 L630.0,273.7 L631.0,273.7 L631.0,273.3 L632.0,273.3 L632.0,272.9 L633.0,272.9 L633.0,272.5 L634.0,272.5 L634.0,272.1 L635.0,272.1 L635.0,271.7 L636.0,271.7 L636.0,272.1 L637.0,272.1 L637.0,270.2 L638.0,270.2 L638.0,269.8 L639.0,269.8 L639.0,269.4 L640.0,269.4 L640.0,269.0 L641.0,269.0 L641.0,268.9 L642.0,268.9 L642.0,270.1 L643.0,270.1 L643.0,270.6 L644.0,270.6 L644.0,271.0 L645.0,271.0 L645.0,271.5 L646.0,271.5 L646.0,271.9 L647.0,271.9 L647.0,273.1 L648.0,273.1 L648.0,273.5 L649.0,273.5 L649.0,274.0 L650.0,274.0 L650.0,274.4 L651.0,274.4 L651.0,274.9 L652.0,274.9 L652.0,273.8 L653.0,273.8 L653.0,273.6 L654.0,273.6 L654.0,275.6 L655.0,275.6 L655.0,276.1 L656.0,276.1 L656.0,276.6 L657.0,276.6 L657.0,277.1 L658.0,277.1 L658.0,277.6 L659.0,277.6 L659.0,278.1 L660.0,278.1 L660.0,277.7 L661.0,277.7 L661.0,278.0 L662.0,278.0 L662.0,278.3 L663.0,278.3 L663.0,279.4 L664.0,279.4 L664.0,279.7 L665.0,279.7 L665.0,280.0 L666.0,280.0 L666.0,280.4 L667.0,280.4 L667.0,279.9 L668.0,279.9 L668.0,279.5 L669.0,279.5 L669.0,280.5 L670.0,280.5 L670.0,280.2 L671.0,280.2 L671.0,279.9 L672.0,279.9 L672.0,279.5 L673.0,279.5 L673.0,279.2 L674.0,279.2 L674.0,278.9 L675.0,278.9 L675.0,278.5 L676.0,278.5 L676.0,279.7 L677.0,279.7 L677.0,279.6 L678.0,279.6 L678.0,278.8 L679.0,278.8 L679.0,278.7 L680.0,278.7 L680.0,278.6 L681.0,278.6 L681.0,278.5 L682.0,278.5 L682.0,278.4 L683.0,278.4 L683.0,277.6 L684.0,277.6 L684.0,277.5 L685.0,277.5 L685.0,277.4 L686.0,277.4 L686.0,277.4 L687.0,277.4 L687.0,277.7 L688.0,277.7 L688.0,278.9 L689.0,278.9 L689.0,279.3 L690.0,279.3 L690.0,279.8 L691.0,279.8 L691.0,280.2 L692.0,280.2 L692.0,280.6 L693.0,280.6 L693.0,279.1 L694.0,279.1 L694.0,282.2 L695.0,282.2 L695.0,281.9 L696.0,281.9 L696.0,282.3 L697.0,282.3 L697.0,282.7 L698.0,282.7 L698.0,282.2 L699.0,282.2 L699.0,282.6 L700.0,282.6 L700.0,282.9 L701.0,282.9 L701.0,284.7 L702.0,284.7 L702.0,284.3 L703.0,284.3 L703.0,284.6 L704.0,284.6 L704.0,284.9 L705.0,284.9 L705.0,285.3 L706.0,285.3 L706.0,285.5 L707.0,285.5 L707.0,286.2 L708.0,286.2 L708.0,286.1 L709.0,286.1 L709.0,286.0 L710.0,286.0 L710.0,285.2 L711.0,285.2 L711.0,282.5 L712.0,282.5 L712.0,285.1 L713.0,285.1 L713.0,284.2 L714.0,284.2 L714.0,284.9 L715.0,284.9 L715.0,284.8 L716.0,284.8 L716.0,284.8 L717.0,284.8 L717.0,284.8 L718.0,284.8 L718.0,285.6 L719.0,285.6 L719.0,284.8 L720.0,284.8 L720.0,282.8 L721.0,282.8 L721.0,284.8 L722.0,284.8 L722.0,284.1 L723.0,284.1 L723.0,284.1 L724.0,284.1 L724.0,284.1 L725.0,284.1 L725.0,284.1 L726.0,284.1 L726.0,284.1 L727.0,284.1 L727.0,284.1 L728.0,284.1 L728.0,285.6 L729.0,285.6 L729.0,286.0 L730.0,286.0 L730.0,286.5 L731.0,286.5 L731.0,286.2 L732.0,286.2 L732.0,286.6 L733.0,286.6 L733.0,287.0 L734.0,287.0 L734.0,286.7 L735.0,286.7 L735.0,287.9 L736.0,287.9 L736.0,288.6 L737.0,288.6 L737.0,289.3 L738.0,289.3 L738.0,290.1 L739.0,290.1 L739.0,290.8 L740.0,290.8 L740.0,291.5 L741.0,291.5 L741.0,292.3 L742.0,292.3 L742.0,291.0 L743.0,291.0 L743.0,293.8 L744.0,293.8 L744.0,295.2 L745.0,295.2 L745.0,296.0 L746.0,296.0 L746.0,296.7 L747.0,296.7 L747.0,297.5 L748.0,297.5 L748.0,298.2 L749.0,298.2 L749.0,299.0 L750.0,299.0 L750.0,299.0 L751.0,299.0 L751.0,299.8 L752.0,299.8 L752.0,299.8 L753.0,299.8 L753.0,300.5 L754.0,300.5 L754.0,301.3 L755.0,301.3 L755.0,302.0 L756.0,302.0 L756.0,302.3 L757.0,302.3 L757.0,302.7 L758.0,302.7 L758.0,303.0 L759.0,303.0 L759.0,303.3 L760.0,303.3 L760.0,304.4 L761.0,304.4 L761.0,304.8 L762.0,304.8 L762.0,305.8 L763.0,305.8 L763.0,306.0 L764.0,306.0 L764.0,306.2 L765.0,306.2 L765.0,304.8 L766.0,304.8 L766.0,305.0 L767.0,305.0 L767.0,306.6 L768.0,306.6 L768.0,305.2 L769.0,305.2 L769.0,305.4 L770.0,305.4 L770.0,305.5 L771.0,305.5 L771.0,305.7 L772.0,305.7 L772.0,305.8 L773.0,305.8 L773.0,306.7 L774.0,306.7 L774.0,307.6 L775.0,307.6 L775.0,306.0 L776.0,306.0 L776.0,306.4 L777.0,306.4 L777.0,306.1 L778.0,306.1 L778.0,305.8 L779.0,305.8 L779.0,305.4 L780.0,305.4 L780.0,305.1 L781.0,305.1 L781.0,304.0 L782.0,304.0 L782.0,304.4 L783.0,304.4 L783.0,303.4 L784.0,303.4 L784.0,303.1 L785.0,303.1 L785.0,302.1 L786.0,302.1 L786.0,301.1 L787.0,301.1 L787.0,298.7 L788.0,298.7 L788.0,300.0 L789.0,300.0 L789.0,299.7 L790.0,299.7 L790.0,299.5 L791.0,299.5 L791.0,299.2 L792.0,299.2 L792.0,298.2 L793.0,298.2 L793.0,297.2 L794.0,297.2 L794.0,296.9 L795.0,296.9 L795.0,296.7 L796.0,296.7 L796.0,296.4 L797.0,296.4 L797.0,297.7 L798.0,297.7 L798.0,297.0 L799.0,297.0 L799.0,296.9 L800.0,296.9 L800.0,296.9 L801.0,296.9 L801.0,296.9 L802.0,296.9 L802.0,296.1 L803.0,296.1 L803.0,296.8 L804.0,296.8 L804.0,296.8 L805.0,296.8 L805.0,296.7 L806.0,296.7 L806.0,296.7 L807.0,296.7 L807.0,296.7 L808.0,296.7 L808.0,296.6 L809.0,296.6 L809.0,296.6 L810.0,296.6 L810.0,296.0 L811.0,296.0 L811.0,296.2 L812.0,296.2 L812.0,296.3 L813.0,296.3 L813.0,296.5 L814.0,296.5 L814.0,296.7 L815.0,296.7 L815.0,296.8 L816.0,296.8 L816.0,297.7 L817.0,297.7 L817.0,296.3 L818.0,296.3 L818.0,299.1 L819.0,299.1 L819.0,299.2 L820.0,299.2 L820.0,300.0 L821.0,300.0 L821.0,300.8 L822.0,300.8 L822.0,303.2 L823.0,303.2 L823.0,302.5 L824.0,302.5 L824.0,303.9 L825.0,303.9 L825.0,304.0 L826.0,304.0 L826.0,304.0 L827.0,304.0 L827.0,304.1 L828.0,304.1 L828.0,304.1 L829.0,304.1 L829.0,304.2 L830.0,304.2 L830.0,305.0 L831.0,305.0 L831.0,305.1 L832.0,305.1 L832.0,305.1 L833.0,305.1 L833.0,305.9 L834.0,305.9 L834.0,307.3 L835.0,307.3 L835.0,308.6 L836.0,308.6 L836.0,309.9 L837.0,309.9 L837.0,311.3 L838.0,311.3 L838.0,312.6 L839.0,312.6 L839.0,312.2 L840.0,312.2 L840.0,313.2 L841.0,313.2 L841.0,314.2 L842.0,314.2 L842.0,315.2 L843.0,315.2 L843.0,316.2 L844.0,316.2 L844.0,318.0 L845.0,318.0 L845.0,319.8 L846.0,319.8 L846.0,320.6 L847.0,320.6 L847.0,320.5 L848.0,320.5 L848.0,320.3 L849.0,320.3 L849.0,318.6 L850.0,318.6 L850.0,318.4 L851.0,318.4 L851.0,318.3 L852.0,318.3 L852.0,318.1 L853.0,318.1 L853.0,317.9 L854.0,317.9 L854.0,317.7 L855.0,317.7 L855.0,319.1 L856.0,319.1 L856.0,318.4 L857.0,318.4 L857.0,318.9 L858.0,318.9 L858.0,320.3 L859.0,320.3 L859.0,320.1 L860.0,320.1 L860.0,320.6 L861.0,320.6 L861.0,321.2 L862.0,321.2 L862.0,321.0 L863.0,321.0 L863.0,323.1 L864.0,323.1 L864.0,321.9 L865.0,321.9 L865.0,322.9 L866.0,322.9 L866.0,323.2 L867.0,323.2 L867.0,324.2 L868.0,324.2 L868.0,323.7 L869.0,323.7 L869.0,323.9 L870.0,323.9 L870.0,324.9 L871.0,324.9 L871.0,325.2 L872.0,325.2 L872.0,324.0 L873.0,324.0 L873.0,324.2 L874.0,324.2 L874.0,324.5 L875.0,324.5 L875.0,324.7 L876.0,324.7 L876.0,325.3 L877.0,325.3 L877.0,327.6 L878.0,327.6 L878.0,328.4 L879.0,328.4 L879.0,329.2 L880.0,329.2 L880.0,330.1 L881.0,330.1 L881.0,330.0 L882.0,330.0 L882.0,330.8 L883.0,330.8 L883.0,331.5 L884.0,331.5 L884.0,332.3 L885.0,332.3 L885.0,333.0 L886.0,333.0 L886.0,333.0 L887.0,333.0 L887.0,333.8 L888.0,333.8 L888.0,334.0 L889.0,334.0 L889.0,335.3 L890.0,335.3 L890.0,335.2 L891.0,335.2 L891.0,335.1 L892.0,335.1 L892.0,334.9 L893.0,334.9 L893.0,334.8 L894.0,334.8 L894.0,334.7 L895.0,334.7 L895.0,334.5 L896.0,334.5 L896.0,334.0 L897.0,334.0 L897.0,332.8 L898.0,332.8 L898.0,333.1 L899.0,333.1 L899.0,332.6 L900.0,332.6 L900.0,330.7 L901.0,330.7 L901.0,330.2 L902.0,330.2 L902.0,329.7 L903.0,329.7 L903.0,329.3 L904.0,329.3 L904.0,328.8 L905.0,328.8 L905.0,328.6 L906.0,328.6 L906.0,329.4 L907.0,329.4 L907.0,329.4 L908.0,329.4 L908.0,328.7 L909.0,328.7 L909.0,328.8 L910.0,328.8 L910.0,330.3 L911.0,330.3 L911.0,330.4 L912.0,330.4 L912.0,330.4 L913.0,330.4 L913.0,329.0 L914.0,329.0 L914.0,329.0 L915.0,329.0 L915.0,329.3 L916.0,329.3 L916.0,331.3 L917.0,331.3 L917.0,331.7 L918.0,331.7 L918.0,332.2 L919.0,332.2 L919.0,332.6 L920.0,332.6 L920.0,333.1 L921.0,333.1 L921.0,332.1 L922.0,332.1 L922.0,332.5 L923.0,332.5 L923.0,333.0 L924.0,333.0 L924.0,334.2 L925.0,334.2 L925.0,334.4 L926.0,334.4 L926.0,335.3 L927.0,335.3 L927.0,335.5 L928.0,335.5 L928.0,334.2 L929.0,334.2 L929.0,334.3 L930.0,334.3 L930.0,335.2 L931.0,335.2 L931.0,335.4 L932.0,335.4 L932.0,336.1 L933.0,336.1 L933.0,338.5 L934.0,338.5 L934.0,339.3 L935.0,339.3 L935.0,340.9 L936.0,340.9 L936.0,341.7 L937.0,341.7 L937.0,343.3 L938.0,343.3 L938.0,345.1 L939.0,345.1 L939.0,344.2 L940.0,344.2 L940.0,343.3 L941.0,343.3 L941.0,342.4 L942.0,342.4 L942.0,341.5 L943.0,341.5 L943.0,341.1 L944.0,341.1 L944.0,341.6 L945.0,341.6 L945.0,342.1 L946.0,342.1 L946.0,341.8 L947.0,341.8 L947.0,342.4 L948.0,342.4 L948.0,342.9 L949.0,342.9 L949.0,343.4 L950.0,343.4 L950.0,345.4 L951.0,345.4 L951.0,345.9 L952.0,345.9 L952.0,346.2 L953.0,346.2 L953.0,346.3 L954.0,346.3 L954.0,346.5 L955.0,346.5 L955.0,346.7 L956.0,346.7 L956.0,346.9 L957.0,346.9 L957.0,347.1 L958.0,347.1 L958.0,347.2 L959.0,347.2 L959.0,346.8 L960.0,346.8 L960.0,347.6 L961.0,347.6 L961.0,348.3 L962.0,348.3 L962.0,349.0 L963.0,349.0 L963.0,349.8 L964.0,349.8 L964.0,350.1 L965.0,350.1 L965.0,349.0 L966.0,349.0 L966.0,348.7 L967.0,348.7 L967.0,349.9 L968.0,349.9 L968.0,348.1 L969.0,348.1 L969.0,347.8 L970.0,347.8 L970.0,347.5 L971.0,347.5 L971.0,348.7 L972.0,348.7 L972.0,349.3 L973.0,349.3 L973.0,350.1 L974.0,350.1 L974.0,350.7 L975.0,350.7 L975.0,351.4 L976.0,351.4 L976.0,351.3 L977.0,351.3 L977.0,350.6 L978.0,350.6 L978.0,349.8 L979.0,349.8 L979.0,349.7 L980.0,349.7 L980.0,349.7 L981.0,349.7 L981.0,349.6 L982.0,349.6 L982.0,349.6 L983.0,349.6 L983.0,350.3 L984.0,350.3 L984.0,350.3 L985.0,350.3 L985.0,350.2 L986.0,350.2 L986.0,350.2 L987.0,350.2 L987.0,350.2 L988.0,350.2 L988.0,350.2 L989.0,350.2 L989.0,350.2 L990.0,350.2 L990.0,350.2 L991.0,350.2 L991.0,350.2 L992.0,350.2 L992.0,350.2 L993.0,350.2 L993.0,350.2 L994.0,350.2 L994.0,350.2 L995.0,350.2 L995.0,350.2 L996.0,350.2 L996.0,350.9 L997.0,350.9 L997.0,348.3 L998.0,348.3 L998.0,350.7 L999.0,350.7 L999.0,351.1 L1000.0,351.1 L1000.0,351.6 L1001.0,351.6 L1001.0,352.0 L1002.0,352.0 L1002.0,351.7 L1003.0,351.7 L1003.0,352.9 L1004.0,352.9 L1004.0,354.0 L1005.0,354.0 L1005.0,354.5 L1006.0,354.5 L1006.0,354.7 L1007.0,354.7 L1007.0,354.9 L1008.0,354.9 L1008.0,354.3 L1009.0,354.3 L1009.0,354.4 L1010.0,354.4 L1010.0,354.6 L1011.0,354.6 L1011.0,354.7 L1012.0,354.7 L1012.0,354.9 L1013.0,354.9 L1013.0,355.8 L1014.0,355.8 L1014.0,355.9 L1015.0,355.9 L1015.0,356.7 L1016.0,356.7 L1016.0,357.5 L1017.0,357.5 L1017.0,358.3 L1018.0,358.3 L1018.0,359.1 L1019.0,359.1 L1019.0,359.9 L1020.0,359.9 L1020.0,360.7 L1021.0,360.7 L1021.0,361.0 L1022.0,361.0 L1022.0,361.1 L1023.0,361.1 L1023.0,360.6 L1024.0,360.6 L1024.0,360.7 L1025.0,360.7 L1025.0,360.9 L1026.0,360.9 L1026.0,360.3 L1027.0,360.3 L1027.0,360.5 L1028.0,360.5 L1028.0,361.8 L1029.0,361.8 L1029.0,362.7 L1030.0,362.7 L1030.0,363.6 L1031.0,363.6 L1031.0,364.5 L1032.0,364.5 L1032.0,364.7 L1033.0,364.7 L1033.0,365.6 L1034.0,365.6 L1034.0,366.6 L1035.0,366.6 L1035.0,367.7 L1036.0,367.7 L1036.0,370.2 L1037.0,370.2 L1037.0,371.3 L1038.0,371.3 L1038.0,370.9 L1039.0,370.9 L1039.0,372.0 L1040.0,372.0 L1040.0,373.0 L1041.0,373.0 L1041.0,375.0 L1042.0,375.0 L1042.0,374.0 L1043.0,374.0 L1043.0,375.2 L1044.0,375.2 L1044.0,375.7 L1045.0,375.7 L1045.0,376.0 L1046.0,376.0 L1046.0,375.5 L1047.0,375.5 L1047.0,374.2 L1048.0,374.2 L1048.0,374.5 L1049.0,374.5 L1049.0,374.0 L1050.0,374.0 L1050.0,373.5 L1051.0,373.5 L1051.0,373.0 L1052.0,373.0 L1052.0,372.5 L1053.0,372.5 L1053.0,372.2 L1054.0,372.2 L1054.0,371.9 L1055.0,371.9 L1055.0,371.6 L1056.0,371.6 L1056.0,371.3 L1057.0,371.3 L1057.0,371.1 L1058.0,371.1 L1058.0,370.8 L1059.0,370.8 L1059.0,370.5 L1060.0,370.5 L1060.0,370.3 L1061.0,370.3 L1061.0,370.2 L1062.0,370.2 L1062.0,368.1 L1063.0,368.1 L1063.0,369.9 L1064.0,369.9 L1064.0,369.8 L1065.0,369.8 L1065.0,369.7 L1066.0,369.7 L1066.0,368.8 L1067.0,368.8 L1067.0,368.6 L1068.0,368.6 L1068.0,370.0 L1069.0,370.0 L1069.0,369.9 L1070.0,369.9 L1070.0,369.0 L1071.0,369.0 L1071.0,368.8 L1072.0,368.8 L1072.0,367.9 L1073.0,367.9 L1073.0,367.8 L1074.0,367.8 L1074.0,367.7 L1075.0,367.7 L1075.0,367.5 L1076.0,367.5 L1076.0,367.4 L1077.0,367.4 L1077.0,367.4 L1078.0,367.4 L1078.0,367.4 L1079.0,367.4 L1079.0,367.4 L1080.0,367.4 L1080.0,365.6 L1081.0,365.6 L1081.0,368.2 L1082.0,368.2 L1082.0,368.2 L1083.0,368.2 L1083.0,368.2 L1084.0,368.2 L1084.0,368.2 L1085.0,368.2 L1085.0,368.9 L1086.0,368.9 L1086.0,369.6 L1087.0,369.6 L1087.0,369.6 L1088.0,369.6 L1088.0,371.9 L1089.0,371.9 L1089.0,372.7 L1090.0,372.7 L1090.0,373.4 L1091.0,373.4 L1091.0,374.2 L1092.0,374.2 L1092.0,374.9 L1093.0,374.9 L1093.0,374.2 L1094.0,374.2 L1094.0,376.4 L1095.0,376.4 L1095.0,375.6 L1096.0,375.6 L1096.0,375.6 L1097.0,375.6 L1097.0,375.6 L1098.0,375.6 L1098.0,374.9 L1099.0,374.9 L1099.0,374.9 L1100.0,374.9 L1100.0,375.6 L1101.0,375.6 L1101.0,375.6 L1102.0,375.6 L1102.0,375.6 L1103.0,375.6 L1103.0,376.2 L1104.0,376.2 L1104.0,377.3 L1105.0,377.3 L1105.0,378.5 L1106.0,378.5 L1106.0,377.7 L1107.0,377.7 L1107.0,376.9 L1108.0,376.9 L1108.0,376.0 L1109.0,376.0 L1109.0,375.2 L1110.0,375.2 L1110.0,374.4 L1111.0,374.4 L1111.0,373.6 L1112.0,373.6 L1112.0,372.7 L1113.0,372.7 L1113.0,373.5 L1114.0,373.5 L1114.0,375.3 L1115.0,375.3 L1115.0,377.0 L1116.0,377.0 L1116.0,379.6 L1117.0,379.6 L1117.0,379.9 L1118.0,379.9 L1118.0,380.1 L1119.0,380.1 L1119.0,380.3 L1120.0,380.3 L1120.0,379.8 L1121.0,379.8 L1121.0,380.0 L1122.0,380.0 L1122.0,380.2 L1123.0,380.2 L1123.0,380.4 L1124.0,380.4 L1124.0,380.6 L1125.0,380.6 L1125.0,380.8 L1126.0,380.8 L1126.0,381.0 L1127.0,381.0 L1127.0,380.6 L1128.0,380.6 L1128.0,380.9 L1129.0,380.9 L1129.0,380.5 L1130.0,380.5 L1130.0,380.1 L1131.0,380.1 L1131.0,379.8 L1132.0,379.8 L1132.0,380.2 L1133.0,380.2 L1133.0,379.7 L1134.0,379.7 L1134.0,380.1 L1135.0,380.1 L1135.0,380.4 L1136.0,380.4 L1136.0,381.5 L1137.0,381.5 L1137.0,381.8 L1138.0,381.8 L1138.0,382.2 L1139.0,382.2 L1139.0,383.3 L1140.0,383.3 L1140.0,383.9 L1141.0,383.9 L1141.0,385.2 L1142.0,385.2 L1142.0,385.8 L1143.0,385.8 L1143.0,387.1 L1144.0,387.1 L1144.0,389.2 L1145.0,389.2 L1145.0,388.8 L1146.0,388.8 L1146.0,386.8 L1147.0,386.8 L1147.0,386.7 L1148.0,386.7 L1148.0,386.7 L1149.0,386.7 L1149.0,387.4 L1150.0,387.4 L1150.0,388.1 L1151.0,388.1 L1151.0,389.5 L1152.0,389.5 L1152.0,389.4 L1153.0,389.4 L1153.0,390.1 L1154.0,390.1 L1154.0,390.5 L1155.0,390.5 L1155.0,390.9 L1156.0,390.9 L1156.0,391.4 L1157.0,391.4 L1157.0,390.5 L1158.0,390.5 L1158.0,392.9 L1159.0,392.9 L1159.0,393.4 L1160.0,393.4 L1160.0,393.7 L1161.0,393.7 L1161.0,393.5 L1162.0,393.5 L1162.0,393.3 L1163.0,393.3 L1163.0,393.2 L1164.0,393.2 L1164.0,392.2 L1165.0,392.2 L1165.0,392.8 L1166.0,392.8 L1166.0,392.6 L1167.0,392.6 L1167.0,392.5 L1168.0,392.5 L1168.0,392.3 L1169.0,392.3 L1169.0,392.1 L1170.0,392.1 L1170.0,391.8 L1171.0,391.8 L1171.0,390.5 L1172.0,390.5 L1172.0,389.9 L1173.0,389.9 L1173.0,389.4 L1174.0,389.4 L1174.0,388.8 L1175.0,388.8 L1175.0,388.2 L1176.0,388.2 L1176.0,387.6 L1177.0,387.6 L1177.0,387.8 L1178.0,387.8 L1178.0,386.9 L1179.0,386.9 L1179.0,387.6 L1180.0,387.6 L1180.0,387.5 L1181.0,387.5 L1181.0,387.4 L1182.0,387.4 L1182.0,387.3 L1183.0,387.3 L1183.0,387.9 L1184.0,387.9 L1184.0,387.0 L1185.0,387.0 L1185.0,387.1 L1186.0,387.1 L1186.0,387.2 L1187.0,387.2 L1187.0,387.3 L1188.0,387.3 L1188.0,387.4 L1189.0,387.4 L1189.0,387.5 L1190.0,387.5 L1190.0,387.7 L1191.0,387.7 L1191.0,387.8 L1192.0,387.8 L1192.0,385.9 L1193.0,385.9 L1193.0,388.0 L1194.0,388.0 L1194.0,388.9 L1195.0,388.9 L1195.0,389.0 L1196.0,389.0 L1196.0,389.3 L1197.0,389.3 L1197.0,389.8 L1198.0,389.8 L1198.0,390.3 L1199.0,390.3 L1199.0,390.8 L1200.0,390.8 L1200.0,389.8 L1201.0,389.8 L1201.0,390.3 L1202.0,390.3 L1202.0,390.8 L1203.0,390.8 L1203.0,392.8 L1204.0,392.8 L1204.0,392.1 L1205.0,392.1 L1205.0,392.8 L1206.0,392.8 L1206.0,394.3 L1207.0,394.3 L1207.0,395.1 L1208.0,395.1 L1208.0,395.4 L1209.0,395.4 L1209.0,397.7 L1210.0,397.7 L1210.0,400.1 L1211.0,400.1 L1211.0,403.1 L1212.0,403.1 L1212.0,404.6 L1213.0,404.6 L1213.0,405.2 L1214.0,405.2 L1214.0,405.8 L1215.0,405.8 L1215.0,407.2 L1216.0,407.2 L1216.0,406.3 L1217.0,406.3 L1217.0,407.6 L1218.0,407.6 L1218.0,407.7 L1219.0,407.7 L1219.0,409.0 L1220.0,409.0 L1220.0,410.2 L1221.0,410.2 L1221.0,411.5 L1222.0,411.5 L1222.0,412.7 L1223.0,412.7 L1223.0,415.3 L1224.0,415.3 L1224.0,418.5 L1225.0,418.5 L1225.0,420.9 L1226.0,420.9 L1226.0,420.2 L1227.0,420.2 L1227.0,419.4 L1228.0,419.4 L1228.0,420.2 L1229.0,420.2 L1229.0,420.2 L1230.0,420.2 L1230.0,420.3 L1231.0,420.3 L1231.0,421.2 L1232.0,421.2 L1232.0,422.2 L1233.0,422.2 L1233.0,423.1 L1234.0,423.1 L1234.0,424.0 L1235.0,424.0 L1235.0,427.0 L1236.0,427.0 L1236.0,429.6 L1237.0,429.6 L1237.0,429.8 L1238.0,429.8 L1238.0,430.8 L1239.0,430.8 L1239.0,431.2 L1240.0,431.2 L1240.0,431.3 L1241.0,431.3 L1241.0,432.1 L1242.0,432.1 L1242.0,432.9 L1243.0,432.9 L1243.0,432.9 L1244.0,432.9 L1244.0,433.7 L1245.0,433.7 L1245.0,435.2 L1246.0,435.2 L1246.0,436.8 L1247.0,436.8 L1247.0,437.6 L1248.0,437.6 L1248.0,435.1 L1249.0,435.1 L1249.0,438.5 L1250.0,438.5 L1250.0,439.3 L1251.0,439.3 L1251.0,440.3 L1252.0,440.3 L1252.0,442.3 L1253.0,442.3 L1253.0,444.3 L1254.0,444.3 L1254.0,447.1 L1255.0,447.1 L1256.2,458.4 L1257.5,465.7 L1263.1,464.0 L1293.9,464.0 L1293.9,455.9 L1296.3,453.9 L1300.0,458.4 L1303.7,468.2 L1307.4,480.5 L1311.1,495.2 L1313.5,510.0 L1316.0,529.7 L1318.4,554.3 L1319.2,560.0 L1322.8,610.0 L1326.0,666.0 Z M662.8,666.0 L665.6,606.7 L668.3,569.8 L670.7,537.9 L674.4,498.5 L678.1,471.5 L681.8,453.0 L683.8,446.9 L688.0,451.8 L691.6,471.5 L695.3,493.6 L699.0,515.7 L702.7,537.1 L706.4,518.2 L711.3,493.6 L716.2,475.2 L722.4,462.9 L728.5,454.3 L735.9,444.4 L743.3,437.0 L750.7,434.6 L758.0,427.2 L764.2,430.9 L769.1,448.1 L775.2,456.7 L782.6,462.9 L790.0,455.5 L798.6,450.6 L807.2,440.7 L815.8,438.3 L822.0,430.9 L826.9,433.4 L834.3,426.0 L841.6,435.8 L849.0,443.2 L856.4,455.5 L861.3,473.9 L865.0,489.9 L869.9,502.2 L876.1,503.4 L879.8,497.3 L885.9,494.8 L890.8,498.5 L895.7,513.3 L900.7,515.7 L906.8,526.8 L908.0,547.2 L911.7,547.2 L913.0,541.6 L915.4,547.2 L919.1,547.2 L921.4,530.5 L924.2,546.7 L927.9,555.3 L930.3,568.9 L932.0,562.7 L935.2,578.7 L938.3,596.0 L938.9,601.5 L939.6,594.0 L942.1,573.8 L946.3,561.5 L950.0,549.2 L954.9,561.5 L958.6,575.0 L962.3,560.2 L964.3,551.6 L967.2,581.1 L969.7,610.7 L972.1,647.5 L973.4,666.0 Z" fill="#cccccc" fill-rule="evenodd" shape-rendering="crispEdges"/>
<path d="M371.90,666.00 C372.33,644.63 373.62,573.52 374.50,537.80 C375.38,502.08 376.40,471.33 377.20,451.70 C378.00,432.07 378.73,429.95 379.30,420.00 C379.87,410.05 380.10,402.38 380.60,392.00 C381.10,381.62 381.68,367.92 382.30,357.70 C382.92,347.48 383.57,338.28 384.30,330.70 C385.03,323.12 385.68,316.32 386.70,312.20 C387.72,308.08 389.08,306.20 390.40,306.00 C391.72,305.80 393.07,309.23 394.60,311.00 C396.13,312.77 398.05,316.60 399.60,316.60 C401.15,316.60 402.57,315.62 403.90,311.00 C405.23,306.38 406.37,295.47 407.60,288.90 C408.83,282.33 409.87,277.75 411.30,271.60 C412.73,265.45 414.57,257.53 416.20,252.00 C417.83,246.47 419.67,241.07 421.10,238.40 C422.53,235.73 423.57,235.58 424.80,236.00 C426.03,236.42 427.27,237.62 428.50,240.90 C429.73,244.18 430.88,252.42 432.20,255.70 C433.52,258.98 434.55,260.82 436.40,260.60 C438.25,260.38 440.92,255.97 443.30,254.40 C445.68,252.83 448.45,251.20 450.70,251.20 C452.95,251.20 454.97,252.43 456.80,254.40 C458.63,256.37 460.27,259.52 461.70,263.00 C463.13,266.48 464.37,270.58 465.40,275.30 C466.43,280.02 467.08,284.95 467.90,291.30 C468.72,297.65 469.48,305.62 470.30,313.40 C471.12,321.18 471.98,329.80 472.80,338.00 C473.62,346.20 474.30,353.60 475.20,362.60 C476.10,371.60 477.28,384.22 478.20,392.00 C479.12,399.78 479.97,405.80 480.70,409.30 C481.43,412.80 481.95,413.40 482.60,413.00 C483.25,412.60 483.78,411.20 484.60,406.90 C485.42,402.60 486.52,393.77 487.50,387.20 C488.48,380.63 489.47,373.03 490.50,367.50 C491.53,361.97 492.55,358.08 493.70,354.00 C494.85,349.92 496.17,345.87 497.40,343.00 C498.63,340.13 499.05,339.88 501.10,336.80 C503.15,333.72 506.63,328.80 509.70,324.50 C512.77,320.20 516.23,314.90 519.50,311.00 C522.77,307.10 526.02,303.97 529.30,301.10 C532.58,298.23 536.53,296.45 539.20,293.80 C541.87,291.15 543.78,287.40 545.30,285.20 C546.82,283.00 547.47,281.68 548.30,280.60 C549.13,279.52 549.55,279.07 550.30,278.70 C551.05,278.33 551.97,278.40 552.80,278.40 C553.63,278.40 554.52,278.38 555.30,278.70 C556.08,279.02 556.68,279.60 557.50,280.30 C558.32,281.00 558.52,281.08 560.20,282.90 C561.88,284.72 565.88,289.52 567.60,291.20 C569.32,292.88 569.43,292.62 570.50,293.00 C571.57,293.38 572.37,293.35 574.00,293.50 C575.63,293.65 578.25,293.23 580.30,293.90 C582.35,294.57 584.13,295.68 586.30,297.50 C588.47,299.32 591.02,302.30 593.30,304.80 C595.58,307.30 598.07,309.78 600.00,312.50 C601.93,315.22 603.27,316.78 604.90,321.10 C606.53,325.42 608.37,331.83 609.80,338.40 C611.23,344.97 612.27,353.33 613.50,360.50 C614.73,367.67 615.97,375.25 617.20,381.40 C618.43,387.55 619.67,393.10 620.90,397.40 C622.13,401.70 622.97,404.87 624.60,407.20 C626.23,409.53 628.25,410.67 630.70,411.40 C633.15,412.13 636.22,411.60 639.30,411.60 C642.38,411.60 646.53,411.93 649.20,411.40 C651.87,410.87 653.25,410.12 655.30,408.40 C657.35,406.68 659.45,404.58 661.50,401.10 C663.55,397.62 665.55,392.02 667.60,387.50 C669.65,382.98 671.95,377.88 673.80,374.00 C675.65,370.12 677.27,366.57 678.70,364.20 C680.13,361.83 681.17,360.75 682.40,359.80 C683.63,358.85 684.47,358.38 686.10,358.50 C687.73,358.62 689.95,359.68 692.20,360.50 C694.45,361.32 697.47,362.87 699.60,363.40 C701.73,363.93 703.15,363.65 705.00,363.70 C706.85,363.75 708.53,363.70 710.70,363.70 C712.87,363.70 715.28,363.70 718.00,363.70 C720.72,363.70 724.13,363.70 727.00,363.70 C729.87,363.70 732.38,363.90 735.20,363.70 C738.02,363.50 741.43,363.45 743.90,362.50 C746.37,361.55 747.97,359.90 750.00,358.00 C752.03,356.10 754.47,352.45 756.10,351.10 C757.73,349.75 758.57,349.77 759.80,349.90 C761.03,350.03 762.27,350.33 763.50,351.90 C764.73,353.47 765.97,356.02 767.20,359.30 C768.43,362.58 769.67,367.10 770.90,371.60 C772.13,376.10 773.37,381.80 774.60,386.30 C775.83,390.80 777.07,395.12 778.30,398.60 C779.53,402.08 780.57,404.95 782.00,407.20 C783.43,409.45 785.40,411.18 786.90,412.10 C788.40,413.02 789.37,412.57 791.00,412.70 C792.63,412.83 794.70,412.87 796.70,412.90 C798.70,412.93 800.78,412.90 803.00,412.90 C805.22,412.90 807.77,412.90 810.00,412.90 C812.23,412.90 814.72,412.42 816.40,412.90 C818.08,413.38 818.87,414.08 820.10,415.80 C821.33,417.52 822.82,420.33 823.80,423.20 C824.78,426.07 825.28,429.05 826.00,433.00 C826.72,436.95 827.22,440.48 828.10,446.90 C828.98,453.32 830.35,462.90 831.30,471.50 C832.25,480.10 833.02,489.08 833.80,498.50 C834.58,507.92 835.30,517.33 836.00,528.00 C836.70,538.67 837.38,551.83 838.00,562.50 C838.62,573.17 839.30,584.08 839.70,592.00 C840.10,599.92 840.00,597.67 840.40,610.00 C840.80,622.33 841.82,656.67 842.10,666.00" fill="none" stroke="#0568a6" stroke-width="4.5" stroke-linejoin="round" shape-rendering="crispEdges"/>
<rect x="159.5" y="109.5" width="1280.0" height="557.0" fill="none" stroke="#000" stroke-width="1" shape-rendering="crispEdges"/>
<line x1="159.5" y1="182.5" x2="192.5" y2="182.5" class="t"/>
<line x1="159.5" y1="424.5" x2="192.5" y2="424.5" class="t"/>
<line x1="159.5" y1="352.5" x2="176.5" y2="352.5" class="t"/>
<line x1="159.5" y1="309.5" x2="176.5" y2="309.5" class="t"/>
<line x1="159.5" y1="279.5" x2="176.5" y2="279.5" class="t"/>
<line x1="159.5" y1="255.5" x2="176.5" y2="255.5" class="t"/>
<line x1="159.5" y1="236.5" x2="176.5" y2="236.5" class="t"/>
<line x1="159.5" y1="220.5" x2="176.5" y2="220.5" class="t"/>
<line x1="159.5" y1="206.5" x2="176.5" y2="206.5" class="t"/>
<line x1="159.5" y1="193.5" x2="176.5" y2="193.5" class="t"/>
<line x1="159.5" y1="594.5" x2="176.5" y2="594.5" class="t"/>
<line x1="159.5" y1="551.5" x2="176.5" y2="551.5" class="t"/>
<line x1="159.5" y1="521.5" x2="176.5" y2="521.5" class="t"/>
<line x1="159.5" y1="497.5" x2="176.5" y2="497.5" class="t"/>
<line x1="159.5" y1="478.5" x2="176.5" y2="478.5" class="t"/>
<line x1="159.5" y1="462.5" x2="176.5" y2="462.5" class="t"/>
<line x1="159.5" y1="448.5" x2="176.5" y2="448.5" class="t"/>
<line x1="159.5" y1="435.5" x2="176.5" y2="435.5" class="t"/>
<rect x="853.5" y="119.5" width="575" height="140" fill="#fff" stroke="#000" stroke-width="1" shape-rendering="crispEdges"/>
<rect x="875" y="152" width="101" height="4" fill="#0568a6"/>
<rect x="875" y="214" width="101" height="20" fill="#cccccc"/>
<rect x="925" y="154" width="1" height="1" fill="#333"/>
<rect x="925" y="224" width="1" height="1" fill="#333"/>
<text transform="translate(1208.30,170.30) scale(1,1.030)" font-size="37.1" text-anchor="middle">cWB max-likelihood</text>
<text transform="translate(1207.80,239.70) scale(1,1.030)" font-size="37.2" text-anchor="middle">cWB-LALInference 90%</text>
<text transform="translate(793.30,69.00) scale(1,1.030)" font-size="51.2" text-anchor="middle" font-style="italic">GW190828_065509 - Livingston</text>
<text transform="translate(796.30,775.00) scale(1,1.030)" font-size="45.2" text-anchor="middle">Frequency (Hz)</text>
<text transform="translate(40.40,389.00) rotate(-90) scale(1,1.030)" font-size="44.7" text-anchor="middle">Magnitude</text>
<text transform="translate(65.00,201.60) scale(1,1.030)" font-size="44.7" text-anchor="start">10</text>
<rect x="111.3" y="172.8" width="15.5" height="2" fill="#000"/>
<text transform="translate(127.50,183.10) scale(1,1.030)" font-size="30.0" text-anchor="start">1</text>
<text transform="translate(62.40,444.00) scale(1,1.030)" font-size="44.7" text-anchor="start">10</text>
<rect x="107.4" y="415.2" width="15.5" height="2" fill="#000"/>
<text transform="translate(124.00,424.80) scale(1,1.030)" font-size="30.0" text-anchor="start">2</text>
<text transform="translate(64.50,686.00) scale(1,1.030)" font-size="44.7" text-anchor="start">10</text>
<rect x="109.5" y="657.2" width="15.5" height="2" fill="#000"/>
<text transform="translate(125.50,666.20) scale(1,1.030)" font-size="30.0" text-anchor="start">3</text>
<text transform="translate(769.60,729.00) scale(1,1.030)" font-size="44.7" text-anchor="start">10</text>
<text transform="translate(814.10,709.00) scale(1,1.030)" font-size="30.0" text-anchor="start">2</text>
</svg>
</body></html>
